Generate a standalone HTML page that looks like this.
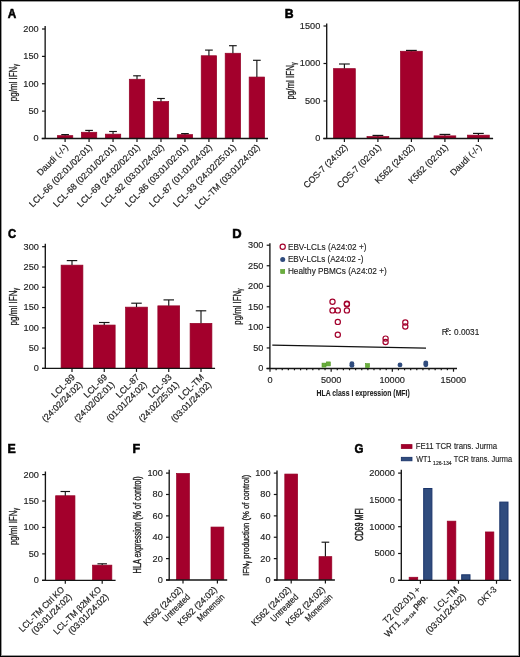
<!DOCTYPE html>
<html><head><meta charset="utf-8"><style>
html,body{margin:0;padding:0;background:#fff;}
#c{position:relative;width:520px;height:657px;overflow:hidden;background:#fff;}
#c svg{position:absolute;left:0;top:0;will-change:transform;}
#bd{position:absolute;left:0;top:0;width:518px;height:655px;border:1px solid #000;box-shadow:inset 0 0 0 1px #9a9a9a;}
text{font-family:"Liberation Sans",sans-serif;}
</style></head><body><div id="c">
<svg width="520" height="657" viewBox="0 0 520 657">
<rect x="57.40" y="135.65" width="15.40" height="2.50" fill="#a3002c" stroke="#940026" stroke-width="0.7"/>
<rect x="81.37" y="132.25" width="15.40" height="5.90" fill="#a3002c" stroke="#940026" stroke-width="0.7"/>
<rect x="105.34" y="134.15" width="15.40" height="4.00" fill="#a3002c" stroke="#940026" stroke-width="0.7"/>
<rect x="129.31" y="79.25" width="15.40" height="58.90" fill="#a3002c" stroke="#940026" stroke-width="0.7"/>
<rect x="153.28" y="101.55" width="15.40" height="36.60" fill="#a3002c" stroke="#940026" stroke-width="0.7"/>
<rect x="177.25" y="134.65" width="15.40" height="3.50" fill="#a3002c" stroke="#940026" stroke-width="0.7"/>
<rect x="201.22" y="55.75" width="15.40" height="82.40" fill="#a3002c" stroke="#940026" stroke-width="0.7"/>
<rect x="225.19" y="53.25" width="15.40" height="84.90" fill="#a3002c" stroke="#940026" stroke-width="0.7"/>
<rect x="249.16" y="77.05" width="15.40" height="61.10" fill="#a3002c" stroke="#940026" stroke-width="0.7"/>
<rect x="333.50" y="68.65" width="21.80" height="69.50" fill="#a3002c" stroke="#940026" stroke-width="0.7"/>
<rect x="367.00" y="136.55" width="21.80" height="1.60" fill="#a3002c" stroke="#940026" stroke-width="0.7"/>
<rect x="400.50" y="51.25" width="21.80" height="86.90" fill="#a3002c" stroke="#940026" stroke-width="0.7"/>
<rect x="434.00" y="135.85" width="21.80" height="2.30" fill="#a3002c" stroke="#940026" stroke-width="0.7"/>
<rect x="467.50" y="135.15" width="21.80" height="3.00" fill="#a3002c" stroke="#940026" stroke-width="0.7"/>
<rect x="61.10" y="265.15" width="21.80" height="102.90" fill="#a3002c" stroke="#940026" stroke-width="0.7"/>
<rect x="93.35" y="325.05" width="21.80" height="43.00" fill="#a3002c" stroke="#940026" stroke-width="0.7"/>
<rect x="125.60" y="307.15" width="21.80" height="60.90" fill="#a3002c" stroke="#940026" stroke-width="0.7"/>
<rect x="157.85" y="305.85" width="21.80" height="62.20" fill="#a3002c" stroke="#940026" stroke-width="0.7"/>
<rect x="190.10" y="323.35" width="21.80" height="44.70" fill="#a3002c" stroke="#940026" stroke-width="0.7"/>
<rect x="55.65" y="495.75" width="19.30" height="84.20" fill="#a3002c" stroke="#940026" stroke-width="0.7"/>
<rect x="92.55" y="565.15" width="19.30" height="14.80" fill="#a3002c" stroke="#940026" stroke-width="0.7"/>
<rect x="176.60" y="473.45" width="12.80" height="106.20" fill="#a3002c" stroke="#940026" stroke-width="0.7"/>
<rect x="211.00" y="527.05" width="12.80" height="52.60" fill="#a3002c" stroke="#940026" stroke-width="0.7"/>
<rect x="284.80" y="474.05" width="12.80" height="105.60" fill="#a3002c" stroke="#940026" stroke-width="0.7"/>
<rect x="319.00" y="556.65" width="12.80" height="23.00" fill="#a3002c" stroke="#940026" stroke-width="0.7"/>
<rect x="409.15" y="577.25" width="8.60" height="2.70" fill="#a3002c" stroke="#940026" stroke-width="0.7"/>
<rect x="447.25" y="521.15" width="8.60" height="58.80" fill="#a3002c" stroke="#940026" stroke-width="0.7"/>
<rect x="485.35" y="531.95" width="8.50" height="48.00" fill="#a3002c" stroke="#940026" stroke-width="0.7"/>
<rect x="423.70" y="488.50" width="8.20" height="91.30" fill="#304c7e" stroke="#1a346a" stroke-width="1.0"/>
<rect x="461.70" y="574.80" width="8.30" height="5.00" fill="#304c7e" stroke="#1a346a" stroke-width="1.0"/>
<rect x="499.80" y="502.10" width="8.20" height="77.70" fill="#304c7e" stroke="#1a346a" stroke-width="1.0"/>
<text x="7.83" y="18.23" font-size="12.57" text-anchor="start" fill="#000" font-weight="bold" textLength="8.50" lengthAdjust="spacingAndGlyphs" stroke="#000" stroke-width="0.55">A</text>
<line x1="65.10" y1="134.60" x2="65.10" y2="135.60" stroke="#151515" stroke-width="1.15"/>
<line x1="61.25" y1="134.60" x2="68.95" y2="134.60" stroke="#151515" stroke-width="1.15"/>
<line x1="89.07" y1="130.40" x2="89.07" y2="132.20" stroke="#151515" stroke-width="1.15"/>
<line x1="85.22" y1="130.40" x2="92.92" y2="130.40" stroke="#151515" stroke-width="1.15"/>
<line x1="113.04" y1="131.50" x2="113.04" y2="134.10" stroke="#151515" stroke-width="1.15"/>
<line x1="109.19" y1="131.50" x2="116.89" y2="131.50" stroke="#151515" stroke-width="1.15"/>
<line x1="137.01" y1="75.80" x2="137.01" y2="79.20" stroke="#151515" stroke-width="1.15"/>
<line x1="133.16" y1="75.80" x2="140.86" y2="75.80" stroke="#151515" stroke-width="1.15"/>
<line x1="160.98" y1="98.50" x2="160.98" y2="101.50" stroke="#151515" stroke-width="1.15"/>
<line x1="157.13" y1="98.50" x2="164.83" y2="98.50" stroke="#151515" stroke-width="1.15"/>
<line x1="184.95" y1="133.60" x2="184.95" y2="134.60" stroke="#151515" stroke-width="1.15"/>
<line x1="181.10" y1="133.60" x2="188.80" y2="133.60" stroke="#151515" stroke-width="1.15"/>
<line x1="208.92" y1="50.10" x2="208.92" y2="55.70" stroke="#151515" stroke-width="1.15"/>
<line x1="205.07" y1="50.10" x2="212.77" y2="50.10" stroke="#151515" stroke-width="1.15"/>
<line x1="232.89" y1="45.70" x2="232.89" y2="53.20" stroke="#151515" stroke-width="1.15"/>
<line x1="229.04" y1="45.70" x2="236.74" y2="45.70" stroke="#151515" stroke-width="1.15"/>
<line x1="256.86" y1="60.30" x2="256.86" y2="77.00" stroke="#151515" stroke-width="1.15"/>
<line x1="253.01" y1="60.30" x2="260.71" y2="60.30" stroke="#151515" stroke-width="1.15"/>
<line x1="45.15" y1="26.00" x2="45.15" y2="139.10" stroke="#151515" stroke-width="1.35"/>
<line x1="41.95" y1="138.50" x2="45.15" y2="138.50" stroke="#151515" stroke-width="1.2"/>
<text x="33.60" y="141.42" font-size="8.50" text-anchor="start" fill="#1e1e1e" textLength="5.11" lengthAdjust="spacingAndGlyphs" stroke="#1e1e1e" stroke-width="0.15">0</text>
<line x1="41.95" y1="111.12" x2="45.15" y2="111.12" stroke="#151515" stroke-width="1.2"/>
<text x="28.50" y="114.05" font-size="8.50" text-anchor="start" fill="#1e1e1e" textLength="10.21" lengthAdjust="spacingAndGlyphs" stroke="#1e1e1e" stroke-width="0.15">50</text>
<line x1="41.95" y1="83.75" x2="45.15" y2="83.75" stroke="#151515" stroke-width="1.2"/>
<text x="23.39" y="86.67" font-size="8.50" text-anchor="start" fill="#1e1e1e" textLength="15.32" lengthAdjust="spacingAndGlyphs" stroke="#1e1e1e" stroke-width="0.15">100</text>
<line x1="41.95" y1="56.38" x2="45.15" y2="56.38" stroke="#151515" stroke-width="1.2"/>
<text x="23.39" y="59.30" font-size="8.50" text-anchor="start" fill="#1e1e1e" textLength="15.32" lengthAdjust="spacingAndGlyphs" stroke="#1e1e1e" stroke-width="0.15">150</text>
<line x1="41.95" y1="29.00" x2="45.15" y2="29.00" stroke="#151515" stroke-width="1.2"/>
<text x="23.39" y="31.92" font-size="8.50" text-anchor="start" fill="#1e1e1e" textLength="15.32" lengthAdjust="spacingAndGlyphs" stroke="#1e1e1e" stroke-width="0.15">200</text>
<line x1="41.70" y1="138.50" x2="268.00" y2="138.50" stroke="#151515" stroke-width="1.35"/>
<line x1="65.10" y1="138.50" x2="65.10" y2="142.00" stroke="#151515" stroke-width="1.2"/>
<line x1="89.07" y1="138.50" x2="89.07" y2="142.00" stroke="#151515" stroke-width="1.2"/>
<line x1="113.04" y1="138.50" x2="113.04" y2="142.00" stroke="#151515" stroke-width="1.2"/>
<line x1="137.01" y1="138.50" x2="137.01" y2="142.00" stroke="#151515" stroke-width="1.2"/>
<line x1="160.98" y1="138.50" x2="160.98" y2="142.00" stroke="#151515" stroke-width="1.2"/>
<line x1="184.95" y1="138.50" x2="184.95" y2="142.00" stroke="#151515" stroke-width="1.2"/>
<line x1="208.92" y1="138.50" x2="208.92" y2="142.00" stroke="#151515" stroke-width="1.2"/>
<line x1="232.89" y1="138.50" x2="232.89" y2="142.00" stroke="#151515" stroke-width="1.2"/>
<line x1="256.86" y1="138.50" x2="256.86" y2="142.00" stroke="#151515" stroke-width="1.2"/>
<g transform="translate(68.70,147.90) rotate(-45)"><text x="-40.05" y="0.00" font-size="8.90" fill="#1e1e1e" textLength="40.05" lengthAdjust="spacingAndGlyphs" stroke="#1e1e1e" stroke-width="0.2">Daudi (-/-)</text></g>
<g transform="translate(92.67,147.90) rotate(-45)"><text x="-84.61" y="0.00" font-size="8.90" fill="#1e1e1e" textLength="84.61" lengthAdjust="spacingAndGlyphs" stroke="#1e1e1e" stroke-width="0.2">LCL-66 (02:01/02:01)</text></g>
<g transform="translate(116.64,147.90) rotate(-45)"><text x="-84.61" y="0.00" font-size="8.90" fill="#1e1e1e" textLength="84.61" lengthAdjust="spacingAndGlyphs" stroke="#1e1e1e" stroke-width="0.2">LCL-68 (02:01/02:01)</text></g>
<g transform="translate(140.61,147.90) rotate(-45)"><text x="-84.61" y="0.00" font-size="8.90" fill="#1e1e1e" textLength="84.61" lengthAdjust="spacingAndGlyphs" stroke="#1e1e1e" stroke-width="0.2">LCL-69 (24:02/02:01)</text></g>
<g transform="translate(164.58,147.90) rotate(-45)"><text x="-84.61" y="0.00" font-size="8.90" fill="#1e1e1e" textLength="84.61" lengthAdjust="spacingAndGlyphs" stroke="#1e1e1e" stroke-width="0.2">LCL-82 (03:01/24:02)</text></g>
<g transform="translate(188.55,147.90) rotate(-45)"><text x="-84.61" y="0.00" font-size="8.90" fill="#1e1e1e" textLength="84.61" lengthAdjust="spacingAndGlyphs" stroke="#1e1e1e" stroke-width="0.2">LCL-86 (03:01/02:01)</text></g>
<g transform="translate(212.52,147.90) rotate(-45)"><text x="-84.61" y="0.00" font-size="8.90" fill="#1e1e1e" textLength="84.61" lengthAdjust="spacingAndGlyphs" stroke="#1e1e1e" stroke-width="0.2">LCL-87 (01:01/24:02)</text></g>
<g transform="translate(236.49,147.90) rotate(-45)"><text x="-84.61" y="0.00" font-size="8.90" fill="#1e1e1e" textLength="84.61" lengthAdjust="spacingAndGlyphs" stroke="#1e1e1e" stroke-width="0.2">LCL-93 (24:02/25:01)</text></g>
<g transform="translate(260.46,147.90) rotate(-45)"><text x="-87.56" y="0.00" font-size="8.90" fill="#1e1e1e" textLength="87.56" lengthAdjust="spacingAndGlyphs" stroke="#1e1e1e" stroke-width="0.2">LCL-TM (03:01/24:02)</text></g>
<text transform="translate(16.80,101.19) rotate(-90)" font-size="10.40" fill="#1e1e1e" textLength="37.11" lengthAdjust="spacingAndGlyphs" stroke="#1e1e1e" stroke-width="0.3">pg/ml IFN<tspan font-size="6.6" dy="1.4">γ</tspan></text>
<text x="284.76" y="18.23" font-size="12.06" text-anchor="start" fill="#000" font-weight="bold" textLength="8.82" lengthAdjust="spacingAndGlyphs" stroke="#000" stroke-width="0.55">B</text>
<line x1="344.40" y1="64.00" x2="344.40" y2="68.60" stroke="#151515" stroke-width="1.15"/>
<line x1="339.00" y1="64.00" x2="349.80" y2="64.00" stroke="#151515" stroke-width="1.15"/>
<line x1="377.90" y1="135.40" x2="377.90" y2="136.50" stroke="#151515" stroke-width="1.15"/>
<line x1="372.50" y1="135.40" x2="383.30" y2="135.40" stroke="#151515" stroke-width="1.15"/>
<line x1="411.40" y1="50.40" x2="411.40" y2="51.20" stroke="#151515" stroke-width="1.15"/>
<line x1="406.00" y1="50.40" x2="416.80" y2="50.40" stroke="#151515" stroke-width="1.15"/>
<line x1="444.90" y1="134.40" x2="444.90" y2="135.80" stroke="#151515" stroke-width="1.15"/>
<line x1="439.50" y1="134.40" x2="450.30" y2="134.40" stroke="#151515" stroke-width="1.15"/>
<line x1="478.40" y1="133.40" x2="478.40" y2="135.10" stroke="#151515" stroke-width="1.15"/>
<line x1="473.00" y1="133.40" x2="483.80" y2="133.40" stroke="#151515" stroke-width="1.15"/>
<line x1="326.70" y1="23.50" x2="326.70" y2="139.10" stroke="#151515" stroke-width="1.35"/>
<line x1="323.50" y1="138.50" x2="326.70" y2="138.50" stroke="#151515" stroke-width="1.2"/>
<text x="315.15" y="141.42" font-size="8.50" text-anchor="start" fill="#1e1e1e" textLength="5.11" lengthAdjust="spacingAndGlyphs" stroke="#1e1e1e" stroke-width="0.15">0</text>
<line x1="323.50" y1="101.00" x2="326.70" y2="101.00" stroke="#151515" stroke-width="1.2"/>
<text x="304.94" y="103.92" font-size="8.50" text-anchor="start" fill="#1e1e1e" textLength="15.32" lengthAdjust="spacingAndGlyphs" stroke="#1e1e1e" stroke-width="0.15">500</text>
<line x1="323.50" y1="63.50" x2="326.70" y2="63.50" stroke="#151515" stroke-width="1.2"/>
<text x="299.84" y="66.42" font-size="8.50" text-anchor="start" fill="#1e1e1e" textLength="20.42" lengthAdjust="spacingAndGlyphs" stroke="#1e1e1e" stroke-width="0.15">1000</text>
<line x1="323.50" y1="26.00" x2="326.70" y2="26.00" stroke="#151515" stroke-width="1.2"/>
<text x="299.84" y="28.92" font-size="8.50" text-anchor="start" fill="#1e1e1e" textLength="20.42" lengthAdjust="spacingAndGlyphs" stroke="#1e1e1e" stroke-width="0.15">1500</text>
<line x1="323.30" y1="138.50" x2="493.10" y2="138.50" stroke="#151515" stroke-width="1.35"/>
<line x1="344.40" y1="138.50" x2="344.40" y2="142.00" stroke="#151515" stroke-width="1.2"/>
<line x1="377.90" y1="138.50" x2="377.90" y2="142.00" stroke="#151515" stroke-width="1.2"/>
<line x1="411.40" y1="138.50" x2="411.40" y2="142.00" stroke="#151515" stroke-width="1.2"/>
<line x1="444.90" y1="138.50" x2="444.90" y2="142.00" stroke="#151515" stroke-width="1.2"/>
<line x1="478.40" y1="138.50" x2="478.40" y2="142.00" stroke="#151515" stroke-width="1.2"/>
<g transform="translate(348.00,147.90) rotate(-45)"><text x="-57.87" y="0.00" font-size="8.90" fill="#1e1e1e" textLength="57.87" lengthAdjust="spacingAndGlyphs" stroke="#1e1e1e" stroke-width="0.2">COS-7 (24:02)</text></g>
<g transform="translate(381.50,147.90) rotate(-45)"><text x="-57.87" y="0.00" font-size="8.90" fill="#1e1e1e" textLength="57.87" lengthAdjust="spacingAndGlyphs" stroke="#1e1e1e" stroke-width="0.2">COS-7 (02:01)</text></g>
<g transform="translate(415.00,147.90) rotate(-45)"><text x="-51.46" y="0.00" font-size="8.90" fill="#1e1e1e" textLength="51.46" lengthAdjust="spacingAndGlyphs" stroke="#1e1e1e" stroke-width="0.2">K562 (24:02)</text></g>
<g transform="translate(448.50,147.90) rotate(-45)"><text x="-51.46" y="0.00" font-size="8.90" fill="#1e1e1e" textLength="51.46" lengthAdjust="spacingAndGlyphs" stroke="#1e1e1e" stroke-width="0.2">K562 (02:01)</text></g>
<g transform="translate(482.00,147.90) rotate(-45)"><text x="-40.05" y="0.00" font-size="8.90" fill="#1e1e1e" textLength="40.05" lengthAdjust="spacingAndGlyphs" stroke="#1e1e1e" stroke-width="0.2">Daudi (-/-)</text></g>
<text transform="translate(294.20,99.59) rotate(-90)" font-size="10.40" fill="#1e1e1e" textLength="37.01" lengthAdjust="spacingAndGlyphs" stroke="#1e1e1e" stroke-width="0.3">pg/ml IFN<tspan font-size="6.6" dy="1.4">γ</tspan></text>
<text x="8.01" y="238.22" font-size="13.15" text-anchor="start" fill="#000" font-weight="bold" textLength="8.12" lengthAdjust="spacingAndGlyphs" stroke="#000" stroke-width="0.55">C</text>
<line x1="72.00" y1="260.60" x2="72.00" y2="265.10" stroke="#151515" stroke-width="1.15"/>
<line x1="66.75" y1="260.60" x2="77.25" y2="260.60" stroke="#151515" stroke-width="1.15"/>
<line x1="104.25" y1="322.50" x2="104.25" y2="325.00" stroke="#151515" stroke-width="1.15"/>
<line x1="99.00" y1="322.50" x2="109.50" y2="322.50" stroke="#151515" stroke-width="1.15"/>
<line x1="136.50" y1="303.20" x2="136.50" y2="307.10" stroke="#151515" stroke-width="1.15"/>
<line x1="131.25" y1="303.20" x2="141.75" y2="303.20" stroke="#151515" stroke-width="1.15"/>
<line x1="168.75" y1="299.90" x2="168.75" y2="305.80" stroke="#151515" stroke-width="1.15"/>
<line x1="163.50" y1="299.90" x2="174.00" y2="299.90" stroke="#151515" stroke-width="1.15"/>
<line x1="201.00" y1="310.80" x2="201.00" y2="323.30" stroke="#151515" stroke-width="1.15"/>
<line x1="195.75" y1="310.80" x2="206.25" y2="310.80" stroke="#151515" stroke-width="1.15"/>
<line x1="45.30" y1="243.80" x2="45.30" y2="369.00" stroke="#151515" stroke-width="1.35"/>
<line x1="42.10" y1="368.40" x2="45.30" y2="368.40" stroke="#151515" stroke-width="1.2"/>
<text x="33.75" y="371.32" font-size="8.50" text-anchor="start" fill="#1e1e1e" textLength="5.11" lengthAdjust="spacingAndGlyphs" stroke="#1e1e1e" stroke-width="0.15">0</text>
<line x1="42.10" y1="348.12" x2="45.30" y2="348.12" stroke="#151515" stroke-width="1.2"/>
<text x="28.65" y="351.04" font-size="8.50" text-anchor="start" fill="#1e1e1e" textLength="10.21" lengthAdjust="spacingAndGlyphs" stroke="#1e1e1e" stroke-width="0.15">50</text>
<line x1="42.10" y1="327.83" x2="45.30" y2="327.83" stroke="#151515" stroke-width="1.2"/>
<text x="23.54" y="330.76" font-size="8.50" text-anchor="start" fill="#1e1e1e" textLength="15.32" lengthAdjust="spacingAndGlyphs" stroke="#1e1e1e" stroke-width="0.15">100</text>
<line x1="42.10" y1="307.55" x2="45.30" y2="307.55" stroke="#151515" stroke-width="1.2"/>
<text x="23.54" y="310.47" font-size="8.50" text-anchor="start" fill="#1e1e1e" textLength="15.32" lengthAdjust="spacingAndGlyphs" stroke="#1e1e1e" stroke-width="0.15">150</text>
<line x1="42.10" y1="287.27" x2="45.30" y2="287.27" stroke="#151515" stroke-width="1.2"/>
<text x="23.54" y="290.19" font-size="8.50" text-anchor="start" fill="#1e1e1e" textLength="15.32" lengthAdjust="spacingAndGlyphs" stroke="#1e1e1e" stroke-width="0.15">200</text>
<line x1="42.10" y1="266.98" x2="45.30" y2="266.98" stroke="#151515" stroke-width="1.2"/>
<text x="23.54" y="269.91" font-size="8.50" text-anchor="start" fill="#1e1e1e" textLength="15.32" lengthAdjust="spacingAndGlyphs" stroke="#1e1e1e" stroke-width="0.15">250</text>
<line x1="42.10" y1="246.70" x2="45.30" y2="246.70" stroke="#151515" stroke-width="1.2"/>
<text x="23.54" y="249.62" font-size="8.50" text-anchor="start" fill="#1e1e1e" textLength="15.32" lengthAdjust="spacingAndGlyphs" stroke="#1e1e1e" stroke-width="0.15">300</text>
<line x1="42.00" y1="368.40" x2="215.10" y2="368.40" stroke="#151515" stroke-width="1.35"/>
<line x1="72.00" y1="368.40" x2="72.00" y2="371.90" stroke="#151515" stroke-width="1.2"/>
<line x1="104.25" y1="368.40" x2="104.25" y2="371.90" stroke="#151515" stroke-width="1.2"/>
<line x1="136.50" y1="368.40" x2="136.50" y2="371.90" stroke="#151515" stroke-width="1.2"/>
<line x1="168.75" y1="368.40" x2="168.75" y2="371.90" stroke="#151515" stroke-width="1.2"/>
<line x1="201.00" y1="368.40" x2="201.00" y2="371.90" stroke="#151515" stroke-width="1.2"/>
<g transform="translate(75.60,377.80) rotate(-45)"><text x="-29.19" y="0.00" font-size="8.90" fill="#1e1e1e" textLength="29.19" lengthAdjust="spacingAndGlyphs" stroke="#1e1e1e" stroke-width="0.2">LCL-89</text></g>
<g transform="translate(82.95,385.15) rotate(-45)"><text x="-52.94" y="0.00" font-size="8.90" fill="#1e1e1e" textLength="52.94" lengthAdjust="spacingAndGlyphs" stroke="#1e1e1e" stroke-width="0.2">(24:02/24:02)</text></g>
<g transform="translate(107.85,377.80) rotate(-45)"><text x="-29.19" y="0.00" font-size="8.90" fill="#1e1e1e" textLength="29.19" lengthAdjust="spacingAndGlyphs" stroke="#1e1e1e" stroke-width="0.2">LCL-69</text></g>
<g transform="translate(115.20,385.15) rotate(-45)"><text x="-52.94" y="0.00" font-size="8.90" fill="#1e1e1e" textLength="52.94" lengthAdjust="spacingAndGlyphs" stroke="#1e1e1e" stroke-width="0.2">(24:02/02:01)</text></g>
<g transform="translate(140.10,377.80) rotate(-45)"><text x="-29.19" y="0.00" font-size="8.90" fill="#1e1e1e" textLength="29.19" lengthAdjust="spacingAndGlyphs" stroke="#1e1e1e" stroke-width="0.2">LCL-87</text></g>
<g transform="translate(147.45,385.15) rotate(-45)"><text x="-52.94" y="0.00" font-size="8.90" fill="#1e1e1e" textLength="52.94" lengthAdjust="spacingAndGlyphs" stroke="#1e1e1e" stroke-width="0.2">(01:01/24:02)</text></g>
<g transform="translate(172.35,377.80) rotate(-45)"><text x="-29.19" y="0.00" font-size="8.90" fill="#1e1e1e" textLength="29.19" lengthAdjust="spacingAndGlyphs" stroke="#1e1e1e" stroke-width="0.2">LCL-93</text></g>
<g transform="translate(179.70,385.15) rotate(-45)"><text x="-52.94" y="0.00" font-size="8.90" fill="#1e1e1e" textLength="52.94" lengthAdjust="spacingAndGlyphs" stroke="#1e1e1e" stroke-width="0.2">(24:02/25:01)</text></g>
<g transform="translate(204.60,377.80) rotate(-45)"><text x="-32.14" y="0.00" font-size="8.90" fill="#1e1e1e" textLength="32.14" lengthAdjust="spacingAndGlyphs" stroke="#1e1e1e" stroke-width="0.2">LCL-TM</text></g>
<g transform="translate(211.95,385.15) rotate(-45)"><text x="-52.94" y="0.00" font-size="8.90" fill="#1e1e1e" textLength="52.94" lengthAdjust="spacingAndGlyphs" stroke="#1e1e1e" stroke-width="0.2">(03:01/24:02)</text></g>
<text transform="translate(16.60,325.40) rotate(-90)" font-size="10.40" fill="#1e1e1e" textLength="37.52" lengthAdjust="spacingAndGlyphs" stroke="#1e1e1e" stroke-width="0.3">pg/ml IFN<tspan font-size="6.6" dy="1.4">γ</tspan></text>
<text x="232.21" y="237.53" font-size="12.28" text-anchor="start" fill="#000" font-weight="bold" textLength="9.36" lengthAdjust="spacingAndGlyphs" stroke="#000" stroke-width="0.55">D</text>
<line x1="269.90" y1="243.30" x2="269.90" y2="369.10" stroke="#151515" stroke-width="1.35"/>
<line x1="266.70" y1="368.50" x2="269.90" y2="368.50" stroke="#151515" stroke-width="1.2"/>
<text x="258.35" y="371.42" font-size="8.50" text-anchor="start" fill="#1e1e1e" textLength="5.11" lengthAdjust="spacingAndGlyphs" stroke="#1e1e1e" stroke-width="0.15">0</text>
<line x1="266.70" y1="347.95" x2="269.90" y2="347.95" stroke="#151515" stroke-width="1.2"/>
<text x="253.25" y="350.87" font-size="8.50" text-anchor="start" fill="#1e1e1e" textLength="10.21" lengthAdjust="spacingAndGlyphs" stroke="#1e1e1e" stroke-width="0.15">50</text>
<line x1="266.70" y1="327.40" x2="269.90" y2="327.40" stroke="#151515" stroke-width="1.2"/>
<text x="248.14" y="330.32" font-size="8.50" text-anchor="start" fill="#1e1e1e" textLength="15.32" lengthAdjust="spacingAndGlyphs" stroke="#1e1e1e" stroke-width="0.15">100</text>
<line x1="266.70" y1="306.85" x2="269.90" y2="306.85" stroke="#151515" stroke-width="1.2"/>
<text x="248.14" y="309.77" font-size="8.50" text-anchor="start" fill="#1e1e1e" textLength="15.32" lengthAdjust="spacingAndGlyphs" stroke="#1e1e1e" stroke-width="0.15">150</text>
<line x1="266.70" y1="286.30" x2="269.90" y2="286.30" stroke="#151515" stroke-width="1.2"/>
<text x="248.14" y="289.22" font-size="8.50" text-anchor="start" fill="#1e1e1e" textLength="15.32" lengthAdjust="spacingAndGlyphs" stroke="#1e1e1e" stroke-width="0.15">200</text>
<line x1="266.70" y1="265.75" x2="269.90" y2="265.75" stroke="#151515" stroke-width="1.2"/>
<text x="248.14" y="268.67" font-size="8.50" text-anchor="start" fill="#1e1e1e" textLength="15.32" lengthAdjust="spacingAndGlyphs" stroke="#1e1e1e" stroke-width="0.15">250</text>
<line x1="266.70" y1="245.20" x2="269.90" y2="245.20" stroke="#151515" stroke-width="1.2"/>
<text x="248.14" y="248.12" font-size="8.50" text-anchor="start" fill="#1e1e1e" textLength="15.32" lengthAdjust="spacingAndGlyphs" stroke="#1e1e1e" stroke-width="0.15">300</text>
<line x1="266.50" y1="368.50" x2="457.00" y2="368.50" stroke="#151515" stroke-width="1.35"/>
<line x1="270.00" y1="368.50" x2="270.00" y2="371.70" stroke="#151515" stroke-width="1.2"/>
<line x1="276.12" y1="368.50" x2="276.12" y2="370.30" stroke="#151515" stroke-width="1.2"/>
<line x1="282.23" y1="368.50" x2="282.23" y2="370.30" stroke="#151515" stroke-width="1.2"/>
<line x1="288.35" y1="368.50" x2="288.35" y2="370.30" stroke="#151515" stroke-width="1.2"/>
<line x1="294.47" y1="368.50" x2="294.47" y2="370.30" stroke="#151515" stroke-width="1.2"/>
<line x1="300.58" y1="368.50" x2="300.58" y2="370.30" stroke="#151515" stroke-width="1.2"/>
<line x1="306.70" y1="368.50" x2="306.70" y2="370.30" stroke="#151515" stroke-width="1.2"/>
<line x1="312.82" y1="368.50" x2="312.82" y2="370.30" stroke="#151515" stroke-width="1.2"/>
<line x1="318.93" y1="368.50" x2="318.93" y2="370.30" stroke="#151515" stroke-width="1.2"/>
<line x1="325.05" y1="368.50" x2="325.05" y2="370.30" stroke="#151515" stroke-width="1.2"/>
<line x1="331.17" y1="368.50" x2="331.17" y2="371.70" stroke="#151515" stroke-width="1.2"/>
<line x1="337.28" y1="368.50" x2="337.28" y2="370.30" stroke="#151515" stroke-width="1.2"/>
<line x1="343.40" y1="368.50" x2="343.40" y2="370.30" stroke="#151515" stroke-width="1.2"/>
<line x1="349.52" y1="368.50" x2="349.52" y2="370.30" stroke="#151515" stroke-width="1.2"/>
<line x1="355.63" y1="368.50" x2="355.63" y2="370.30" stroke="#151515" stroke-width="1.2"/>
<line x1="361.75" y1="368.50" x2="361.75" y2="370.30" stroke="#151515" stroke-width="1.2"/>
<line x1="367.87" y1="368.50" x2="367.87" y2="370.30" stroke="#151515" stroke-width="1.2"/>
<line x1="373.98" y1="368.50" x2="373.98" y2="370.30" stroke="#151515" stroke-width="1.2"/>
<line x1="380.10" y1="368.50" x2="380.10" y2="370.30" stroke="#151515" stroke-width="1.2"/>
<line x1="386.22" y1="368.50" x2="386.22" y2="370.30" stroke="#151515" stroke-width="1.2"/>
<line x1="392.33" y1="368.50" x2="392.33" y2="371.70" stroke="#151515" stroke-width="1.2"/>
<line x1="398.45" y1="368.50" x2="398.45" y2="370.30" stroke="#151515" stroke-width="1.2"/>
<line x1="404.57" y1="368.50" x2="404.57" y2="370.30" stroke="#151515" stroke-width="1.2"/>
<line x1="410.68" y1="368.50" x2="410.68" y2="370.30" stroke="#151515" stroke-width="1.2"/>
<line x1="416.80" y1="368.50" x2="416.80" y2="370.30" stroke="#151515" stroke-width="1.2"/>
<line x1="422.92" y1="368.50" x2="422.92" y2="370.30" stroke="#151515" stroke-width="1.2"/>
<line x1="429.03" y1="368.50" x2="429.03" y2="370.30" stroke="#151515" stroke-width="1.2"/>
<line x1="435.15" y1="368.50" x2="435.15" y2="370.30" stroke="#151515" stroke-width="1.2"/>
<line x1="441.27" y1="368.50" x2="441.27" y2="370.30" stroke="#151515" stroke-width="1.2"/>
<line x1="447.38" y1="368.50" x2="447.38" y2="370.30" stroke="#151515" stroke-width="1.2"/>
<line x1="453.50" y1="368.50" x2="453.50" y2="371.70" stroke="#151515" stroke-width="1.2"/>
<text x="267.45" y="383.00" font-size="8.50" text-anchor="start" fill="#1e1e1e" textLength="5.11" lengthAdjust="spacingAndGlyphs" stroke="#1e1e1e" stroke-width="0.15">0</text>
<text x="320.95" y="383.00" font-size="8.50" text-anchor="start" fill="#1e1e1e" textLength="20.42" lengthAdjust="spacingAndGlyphs" stroke="#1e1e1e" stroke-width="0.15">5000</text>
<text x="379.40" y="383.00" font-size="8.50" text-anchor="start" fill="#1e1e1e" textLength="25.53" lengthAdjust="spacingAndGlyphs" stroke="#1e1e1e" stroke-width="0.15">10000</text>
<text x="440.57" y="383.00" font-size="8.50" text-anchor="start" fill="#1e1e1e" textLength="25.53" lengthAdjust="spacingAndGlyphs" stroke="#1e1e1e" stroke-width="0.15">15000</text>
<text x="316.54" y="396.20" font-size="9.00" text-anchor="start" fill="#1e1e1e" font-weight="bold" textLength="93.20" lengthAdjust="spacingAndGlyphs" stroke="#1e1e1e" stroke-width="0.1">HLA class I expression (MFI)</text>
<text transform="translate(240.80,324.68) rotate(-90)" font-size="10.40" fill="#1e1e1e" textLength="36.20" lengthAdjust="spacingAndGlyphs" stroke="#1e1e1e" stroke-width="0.3">pg/ml IFN<tspan font-size="6.6" dy="1.4">γ</tspan></text>
<line x1="272.30" y1="345.20" x2="426.00" y2="348.10" stroke="#111" stroke-width="1.25"/>
<text x="441.71" y="335.00" font-size="8.50" text-anchor="start" fill="#1e1e1e" textLength="6.08" lengthAdjust="spacingAndGlyphs" stroke="#1e1e1e" stroke-width="0.15">R</text>
<text x="445.70" y="332.00" font-size="4.60" text-anchor="start" fill="#1e1e1e" textLength="3.30" lengthAdjust="spacingAndGlyphs" stroke="#1e1e1e" stroke-width="0.15">2</text>
<text x="448.05" y="335.00" font-size="8.50" text-anchor="start" fill="#1e1e1e" textLength="3.79" lengthAdjust="spacingAndGlyphs" stroke="#1e1e1e" stroke-width="0.15">:</text>
<text x="454.08" y="335.00" font-size="8.50" text-anchor="start" fill="#1e1e1e" textLength="25.12" lengthAdjust="spacingAndGlyphs" stroke="#1e1e1e" stroke-width="0.15">0.0031</text>
<circle cx="332.5" cy="301.8" r="2.6" fill="none" stroke="#a3002c" stroke-width="1.2"/>
<circle cx="332.5" cy="310.4" r="2.6" fill="none" stroke="#a3002c" stroke-width="1.2"/>
<circle cx="337.8" cy="310.4" r="2.6" fill="none" stroke="#a3002c" stroke-width="1.2"/>
<circle cx="337.8" cy="321.9" r="2.6" fill="none" stroke="#a3002c" stroke-width="1.2"/>
<circle cx="337.8" cy="334.8" r="2.6" fill="none" stroke="#a3002c" stroke-width="1.2"/>
<circle cx="346.9" cy="303.8" r="2.6" fill="none" stroke="#a3002c" stroke-width="1.2"/>
<circle cx="346.9" cy="304.3" r="2.6" fill="none" stroke="#a3002c" stroke-width="1.2"/>
<circle cx="346.9" cy="310.4" r="2.6" fill="none" stroke="#a3002c" stroke-width="1.2"/>
<circle cx="405.3" cy="322.5" r="2.6" fill="none" stroke="#a3002c" stroke-width="1.2"/>
<circle cx="405.3" cy="326.5" r="2.6" fill="none" stroke="#a3002c" stroke-width="1.2"/>
<circle cx="385.6" cy="338.6" r="2.6" fill="none" stroke="#a3002c" stroke-width="1.2"/>
<circle cx="385.6" cy="342.0" r="2.6" fill="none" stroke="#a3002c" stroke-width="1.2"/>
<circle cx="351.9" cy="363.8" r="2.45" fill="#304c7e"/>
<circle cx="351.9" cy="365.4" r="2.45" fill="#304c7e"/>
<circle cx="400.0" cy="364.9" r="2.45" fill="#304c7e"/>
<circle cx="425.8" cy="363.0" r="2.45" fill="#304c7e"/>
<circle cx="425.8" cy="364.8" r="2.45" fill="#304c7e"/>
<rect x="322.00" y="363.10" width="4.00" height="4.00" fill="#6aad3d" stroke="#4f9a22" stroke-width="0.6"/>
<rect x="326.30" y="361.90" width="4.00" height="4.00" fill="#6aad3d" stroke="#4f9a22" stroke-width="0.6"/>
<rect x="365.50" y="363.60" width="4.00" height="4.00" fill="#6aad3d" stroke="#4f9a22" stroke-width="0.6"/>
<circle cx="282.7" cy="246.7" r="2.6" fill="none" stroke="#a3002c" stroke-width="1.2"/>
<circle cx="282.7" cy="259.6" r="2.5" fill="#304c7e"/>
<rect x="280.70" y="269.50" width="4.00" height="4.00" fill="#6aad3d" stroke="#4f9a22" stroke-width="0.6"/>
<text x="287.93" y="249.80" font-size="8.70" text-anchor="start" fill="#1e1e1e" textLength="78.47" lengthAdjust="spacingAndGlyphs" stroke="#1e1e1e" stroke-width="0.15">EBV-LCLs (A24:02 +)</text>
<text x="287.94" y="262.00" font-size="8.70" text-anchor="start" fill="#1e1e1e" textLength="75.56" lengthAdjust="spacingAndGlyphs" stroke="#1e1e1e" stroke-width="0.15">EBV-LCLs (A24:02 -)</text>
<text x="287.93" y="273.90" font-size="8.70" text-anchor="start" fill="#1e1e1e" textLength="98.78" lengthAdjust="spacingAndGlyphs" stroke="#1e1e1e" stroke-width="0.15">Healthy PBMCs (A24:02 +)</text>
<text x="7.45" y="452.62" font-size="12.43" text-anchor="start" fill="#000" font-weight="bold" textLength="8.26" lengthAdjust="spacingAndGlyphs" stroke="#000" stroke-width="0.55">E</text>
<line x1="65.30" y1="491.50" x2="65.30" y2="495.70" stroke="#151515" stroke-width="1.15"/>
<line x1="60.55" y1="491.50" x2="70.05" y2="491.50" stroke="#151515" stroke-width="1.15"/>
<line x1="102.20" y1="563.80" x2="102.20" y2="565.10" stroke="#151515" stroke-width="1.15"/>
<line x1="97.45" y1="563.80" x2="106.95" y2="563.80" stroke="#151515" stroke-width="1.15"/>
<line x1="45.40" y1="471.50" x2="45.40" y2="580.90" stroke="#151515" stroke-width="1.35"/>
<line x1="42.20" y1="580.30" x2="45.40" y2="580.30" stroke="#151515" stroke-width="1.2"/>
<text x="33.85" y="583.22" font-size="8.50" text-anchor="start" fill="#1e1e1e" textLength="5.11" lengthAdjust="spacingAndGlyphs" stroke="#1e1e1e" stroke-width="0.15">0</text>
<line x1="42.20" y1="553.88" x2="45.40" y2="553.88" stroke="#151515" stroke-width="1.2"/>
<text x="28.75" y="556.80" font-size="8.50" text-anchor="start" fill="#1e1e1e" textLength="10.21" lengthAdjust="spacingAndGlyphs" stroke="#1e1e1e" stroke-width="0.15">50</text>
<line x1="42.20" y1="527.45" x2="45.40" y2="527.45" stroke="#151515" stroke-width="1.2"/>
<text x="23.64" y="530.37" font-size="8.50" text-anchor="start" fill="#1e1e1e" textLength="15.32" lengthAdjust="spacingAndGlyphs" stroke="#1e1e1e" stroke-width="0.15">100</text>
<line x1="42.20" y1="501.02" x2="45.40" y2="501.02" stroke="#151515" stroke-width="1.2"/>
<text x="23.64" y="503.95" font-size="8.50" text-anchor="start" fill="#1e1e1e" textLength="15.32" lengthAdjust="spacingAndGlyphs" stroke="#1e1e1e" stroke-width="0.15">150</text>
<line x1="42.20" y1="474.60" x2="45.40" y2="474.60" stroke="#151515" stroke-width="1.2"/>
<text x="23.64" y="477.52" font-size="8.50" text-anchor="start" fill="#1e1e1e" textLength="15.32" lengthAdjust="spacingAndGlyphs" stroke="#1e1e1e" stroke-width="0.15">200</text>
<line x1="42.00" y1="580.30" x2="115.60" y2="580.30" stroke="#151515" stroke-width="1.35"/>
<line x1="65.30" y1="580.30" x2="65.30" y2="583.80" stroke="#151515" stroke-width="1.2"/>
<line x1="102.20" y1="580.30" x2="102.20" y2="583.80" stroke="#151515" stroke-width="1.2"/>
<g transform="translate(64.90,590.10) rotate(-45)"><text x="-59.96" y="0.00" font-size="8.90" fill="#1e1e1e" textLength="59.96" lengthAdjust="spacingAndGlyphs" stroke="#1e1e1e" stroke-width="0.2">LCL-TM Ctrl KO</text></g>
<g transform="translate(72.25,597.45) rotate(-45)"><text x="-52.94" y="0.00" font-size="8.90" fill="#1e1e1e" textLength="52.94" lengthAdjust="spacingAndGlyphs" stroke="#1e1e1e" stroke-width="0.2">(03:01/24:02)</text></g>
<g transform="translate(101.80,590.10) rotate(-45)"><text x="-63.38" y="0.00" font-size="8.90" fill="#1e1e1e" textLength="63.38" lengthAdjust="spacingAndGlyphs" stroke="#1e1e1e" stroke-width="0.2">LCL-TM β2M KO</text></g>
<g transform="translate(109.15,597.45) rotate(-45)"><text x="-52.94" y="0.00" font-size="8.90" fill="#1e1e1e" textLength="52.94" lengthAdjust="spacingAndGlyphs" stroke="#1e1e1e" stroke-width="0.2">(03:01/24:02)</text></g>
<text transform="translate(16.70,545.09) rotate(-90)" font-size="10.40" fill="#1e1e1e" textLength="37.11" lengthAdjust="spacingAndGlyphs" stroke="#1e1e1e" stroke-width="0.3">pg/ml IFN<tspan font-size="6.6" dy="1.4">γ</tspan></text>
<text x="132.44" y="452.62" font-size="12.43" text-anchor="start" fill="#000" font-weight="bold" textLength="7.65" lengthAdjust="spacingAndGlyphs" stroke="#000" stroke-width="0.55">F</text>
<line x1="169.20" y1="469.80" x2="169.20" y2="580.60" stroke="#151515" stroke-width="1.35"/>
<line x1="166.00" y1="580.00" x2="169.20" y2="580.00" stroke="#151515" stroke-width="1.2"/>
<text x="157.65" y="582.92" font-size="8.50" text-anchor="start" fill="#1e1e1e" textLength="5.11" lengthAdjust="spacingAndGlyphs" stroke="#1e1e1e" stroke-width="0.15">0</text>
<line x1="166.00" y1="558.62" x2="169.20" y2="558.62" stroke="#151515" stroke-width="1.2"/>
<text x="152.55" y="561.54" font-size="8.50" text-anchor="start" fill="#1e1e1e" textLength="10.21" lengthAdjust="spacingAndGlyphs" stroke="#1e1e1e" stroke-width="0.15">20</text>
<line x1="166.00" y1="537.24" x2="169.20" y2="537.24" stroke="#151515" stroke-width="1.2"/>
<text x="152.55" y="540.16" font-size="8.50" text-anchor="start" fill="#1e1e1e" textLength="10.21" lengthAdjust="spacingAndGlyphs" stroke="#1e1e1e" stroke-width="0.15">40</text>
<line x1="166.00" y1="515.86" x2="169.20" y2="515.86" stroke="#151515" stroke-width="1.2"/>
<text x="152.55" y="518.78" font-size="8.50" text-anchor="start" fill="#1e1e1e" textLength="10.21" lengthAdjust="spacingAndGlyphs" stroke="#1e1e1e" stroke-width="0.15">60</text>
<line x1="166.00" y1="494.48" x2="169.20" y2="494.48" stroke="#151515" stroke-width="1.2"/>
<text x="152.55" y="497.40" font-size="8.50" text-anchor="start" fill="#1e1e1e" textLength="10.21" lengthAdjust="spacingAndGlyphs" stroke="#1e1e1e" stroke-width="0.15">80</text>
<line x1="166.00" y1="473.10" x2="169.20" y2="473.10" stroke="#151515" stroke-width="1.2"/>
<text x="147.44" y="476.02" font-size="8.50" text-anchor="start" fill="#1e1e1e" textLength="15.32" lengthAdjust="spacingAndGlyphs" stroke="#1e1e1e" stroke-width="0.15">100</text>
<line x1="166.00" y1="580.00" x2="227.20" y2="580.00" stroke="#151515" stroke-width="1.35"/>
<line x1="183.00" y1="580.00" x2="183.00" y2="583.50" stroke="#151515" stroke-width="1.2"/>
<line x1="217.40" y1="580.00" x2="217.40" y2="583.50" stroke="#151515" stroke-width="1.2"/>
<g transform="translate(183.30,590.10) rotate(-45)"><text x="-51.46" y="0.00" font-size="8.90" fill="#1e1e1e" textLength="51.46" lengthAdjust="spacingAndGlyphs" stroke="#1e1e1e" stroke-width="0.2">K562 (24:02)</text></g>
<g transform="translate(190.72,597.52) rotate(-45)"><text x="-35.18" y="0.00" font-size="8.90" fill="#1e1e1e" textLength="35.18" lengthAdjust="spacingAndGlyphs" stroke="#1e1e1e" stroke-width="0.2">Untreated</text></g>
<g transform="translate(217.70,590.10) rotate(-45)"><text x="-51.46" y="0.00" font-size="8.90" fill="#1e1e1e" textLength="51.46" lengthAdjust="spacingAndGlyphs" stroke="#1e1e1e" stroke-width="0.2">K562 (24:02)</text></g>
<g transform="translate(225.12,597.52) rotate(-45)"><text x="-34.73" y="0.00" font-size="8.90" fill="#1e1e1e" textLength="34.73" lengthAdjust="spacingAndGlyphs" stroke="#1e1e1e" stroke-width="0.2">Monensin</text></g>
<text transform="translate(141.20,573.40) rotate(-90)" font-size="10.00" fill="#1e1e1e" textLength="97.15" lengthAdjust="spacingAndGlyphs" stroke="#1e1e1e" stroke-width="0.35">HLA expression (% of control)</text>
<line x1="325.40" y1="542.20" x2="325.40" y2="556.60" stroke="#151515" stroke-width="1.15"/>
<line x1="321.55" y1="542.20" x2="329.25" y2="542.20" stroke="#151515" stroke-width="1.15"/>
<line x1="277.00" y1="470.50" x2="277.00" y2="580.60" stroke="#151515" stroke-width="1.35"/>
<line x1="273.80" y1="580.00" x2="277.00" y2="580.00" stroke="#151515" stroke-width="1.2"/>
<text x="265.45" y="582.92" font-size="8.50" text-anchor="start" fill="#1e1e1e" textLength="5.11" lengthAdjust="spacingAndGlyphs" stroke="#1e1e1e" stroke-width="0.15">0</text>
<line x1="273.80" y1="558.62" x2="277.00" y2="558.62" stroke="#151515" stroke-width="1.2"/>
<text x="260.35" y="561.54" font-size="8.50" text-anchor="start" fill="#1e1e1e" textLength="10.21" lengthAdjust="spacingAndGlyphs" stroke="#1e1e1e" stroke-width="0.15">20</text>
<line x1="273.80" y1="537.24" x2="277.00" y2="537.24" stroke="#151515" stroke-width="1.2"/>
<text x="260.35" y="540.16" font-size="8.50" text-anchor="start" fill="#1e1e1e" textLength="10.21" lengthAdjust="spacingAndGlyphs" stroke="#1e1e1e" stroke-width="0.15">40</text>
<line x1="273.80" y1="515.86" x2="277.00" y2="515.86" stroke="#151515" stroke-width="1.2"/>
<text x="260.35" y="518.78" font-size="8.50" text-anchor="start" fill="#1e1e1e" textLength="10.21" lengthAdjust="spacingAndGlyphs" stroke="#1e1e1e" stroke-width="0.15">60</text>
<line x1="273.80" y1="494.48" x2="277.00" y2="494.48" stroke="#151515" stroke-width="1.2"/>
<text x="260.35" y="497.40" font-size="8.50" text-anchor="start" fill="#1e1e1e" textLength="10.21" lengthAdjust="spacingAndGlyphs" stroke="#1e1e1e" stroke-width="0.15">80</text>
<line x1="273.80" y1="473.10" x2="277.00" y2="473.10" stroke="#151515" stroke-width="1.2"/>
<text x="255.24" y="476.02" font-size="8.50" text-anchor="start" fill="#1e1e1e" textLength="15.32" lengthAdjust="spacingAndGlyphs" stroke="#1e1e1e" stroke-width="0.15">100</text>
<line x1="274.00" y1="580.00" x2="334.90" y2="580.00" stroke="#151515" stroke-width="1.35"/>
<line x1="291.20" y1="580.00" x2="291.20" y2="583.50" stroke="#151515" stroke-width="1.2"/>
<line x1="325.40" y1="580.00" x2="325.40" y2="583.50" stroke="#151515" stroke-width="1.2"/>
<g transform="translate(291.50,590.10) rotate(-45)"><text x="-51.46" y="0.00" font-size="8.90" fill="#1e1e1e" textLength="51.46" lengthAdjust="spacingAndGlyphs" stroke="#1e1e1e" stroke-width="0.2">K562 (24:02)</text></g>
<g transform="translate(298.92,597.52) rotate(-45)"><text x="-35.18" y="0.00" font-size="8.90" fill="#1e1e1e" textLength="35.18" lengthAdjust="spacingAndGlyphs" stroke="#1e1e1e" stroke-width="0.2">Untreated</text></g>
<g transform="translate(325.70,590.10) rotate(-45)"><text x="-51.46" y="0.00" font-size="8.90" fill="#1e1e1e" textLength="51.46" lengthAdjust="spacingAndGlyphs" stroke="#1e1e1e" stroke-width="0.2">K562 (24:02)</text></g>
<g transform="translate(333.12,597.52) rotate(-45)"><text x="-34.73" y="0.00" font-size="8.90" fill="#1e1e1e" textLength="34.73" lengthAdjust="spacingAndGlyphs" stroke="#1e1e1e" stroke-width="0.2">Monensin</text></g>
<text transform="translate(248.50,575.80) rotate(-90)" font-size="9.90" fill="#1e1e1e" textLength="101.18" lengthAdjust="spacingAndGlyphs" stroke="#1e1e1e" stroke-width="0.35">IFN<tspan font-size="6.6" dy="1.4">γ</tspan><tspan dy="-1.4"> production (% of control)</tspan></text>
<text x="354.60" y="452.83" font-size="12.86" text-anchor="start" fill="#000" font-weight="bold" textLength="8.93" lengthAdjust="spacingAndGlyphs" stroke="#000" stroke-width="0.55">G</text>
<line x1="401.30" y1="469.80" x2="401.30" y2="580.90" stroke="#151515" stroke-width="1.35"/>
<line x1="398.10" y1="580.30" x2="401.30" y2="580.30" stroke="#151515" stroke-width="1.2"/>
<text x="389.75" y="583.22" font-size="8.50" text-anchor="start" fill="#1e1e1e" textLength="5.11" lengthAdjust="spacingAndGlyphs" stroke="#1e1e1e" stroke-width="0.15">0</text>
<line x1="398.10" y1="553.50" x2="401.30" y2="553.50" stroke="#151515" stroke-width="1.2"/>
<text x="374.44" y="556.42" font-size="8.50" text-anchor="start" fill="#1e1e1e" textLength="20.42" lengthAdjust="spacingAndGlyphs" stroke="#1e1e1e" stroke-width="0.15">5000</text>
<line x1="398.10" y1="526.70" x2="401.30" y2="526.70" stroke="#151515" stroke-width="1.2"/>
<text x="369.33" y="529.62" font-size="8.50" text-anchor="start" fill="#1e1e1e" textLength="25.53" lengthAdjust="spacingAndGlyphs" stroke="#1e1e1e" stroke-width="0.15">10000</text>
<line x1="398.10" y1="499.90" x2="401.30" y2="499.90" stroke="#151515" stroke-width="1.2"/>
<text x="369.33" y="502.82" font-size="8.50" text-anchor="start" fill="#1e1e1e" textLength="25.53" lengthAdjust="spacingAndGlyphs" stroke="#1e1e1e" stroke-width="0.15">15000</text>
<line x1="398.10" y1="473.10" x2="401.30" y2="473.10" stroke="#151515" stroke-width="1.2"/>
<text x="369.33" y="476.02" font-size="8.50" text-anchor="start" fill="#1e1e1e" textLength="25.53" lengthAdjust="spacingAndGlyphs" stroke="#1e1e1e" stroke-width="0.15">20000</text>
<line x1="398.00" y1="580.30" x2="511.10" y2="580.30" stroke="#151515" stroke-width="1.35"/>
<line x1="420.40" y1="580.30" x2="420.40" y2="583.80" stroke="#151515" stroke-width="1.2"/>
<line x1="458.50" y1="580.30" x2="458.50" y2="583.80" stroke="#151515" stroke-width="1.2"/>
<line x1="496.50" y1="580.30" x2="496.50" y2="583.80" stroke="#151515" stroke-width="1.2"/>
<g transform="translate(421.00,590.10) rotate(-45)"><text x="-48.73" y="0.00" font-size="8.90" fill="#1e1e1e" textLength="48.73" lengthAdjust="spacingAndGlyphs" stroke="#1e1e1e" stroke-width="0.2">T2 (02:01) +</text></g>
<g transform="translate(428.35,597.45) rotate(-45)"><text x="-57.16" y="0.00" font-size="8.90" fill="#1e1e1e" textLength="18.79" lengthAdjust="spacingAndGlyphs" stroke="#1e1e1e" stroke-width="0.2">WT1</text><text x="-36.77" y="2.40" font-size="4.70" fill="#1e1e1e" textLength="17.25" lengthAdjust="spacingAndGlyphs" stroke="#1e1e1e" stroke-width="0.2">126-134</text><text x="-17.32" y="0.00" font-size="8.90" fill="#1e1e1e" textLength="17.32" lengthAdjust="spacingAndGlyphs" stroke="#1e1e1e" stroke-width="0.2">pep.</text></g>
<g transform="translate(459.10,590.10) rotate(-45)"><text x="-30.53" y="0.00" font-size="8.90" fill="#1e1e1e" textLength="30.53" lengthAdjust="spacingAndGlyphs" stroke="#1e1e1e" stroke-width="0.2">LCL-TM</text></g>
<g transform="translate(466.45,597.45) rotate(-45)"><text x="-52.94" y="0.00" font-size="8.90" fill="#1e1e1e" textLength="52.94" lengthAdjust="spacingAndGlyphs" stroke="#1e1e1e" stroke-width="0.2">(03:01/24:02)</text></g>
<g transform="translate(497.10,590.10) rotate(-45)"><text x="-23.06" y="0.00" font-size="8.90" fill="#1e1e1e" textLength="23.06" lengthAdjust="spacingAndGlyphs" stroke="#1e1e1e" stroke-width="0.2">OKT-3</text></g>
<text transform="translate(362.90,541.07) rotate(-90)" font-size="10.40" fill="#1e1e1e" textLength="32.93" lengthAdjust="spacingAndGlyphs" stroke="#1e1e1e" stroke-width="0.5">CD69 MFI</text>
<rect x="401.30" y="444.60" width="10.70" height="3.90" fill="#a3002c" stroke="#940026" stroke-width="0.8"/>
<rect x="401.35" y="457.35" width="10.60" height="3.40" fill="#304c7e" stroke="#1a346a" stroke-width="0.9"/>
<text x="415.67" y="449.40" font-size="8.90" text-anchor="start" fill="#1e1e1e" textLength="81.53" lengthAdjust="spacingAndGlyphs" stroke="#1e1e1e" stroke-width="0.15">FE11 TCR trans. Jurma</text>
<text x="416.17" y="461.60" font-size="8.90" text-anchor="start" fill="#1e1e1e" textLength="15.18" lengthAdjust="spacingAndGlyphs" stroke="#1e1e1e" stroke-width="0.15">WT1</text>
<text x="433.12" y="464.80" font-size="4.90" text-anchor="start" fill="#1e1e1e" textLength="18.53" lengthAdjust="spacingAndGlyphs" stroke="#1e1e1e" stroke-width="0.15">126-134</text>
<text x="453.73" y="461.60" font-size="8.90" text-anchor="start" fill="#1e1e1e" textLength="58.37" lengthAdjust="spacingAndGlyphs" stroke="#1e1e1e" stroke-width="0.15">TCR trans. Jurma</text>
</svg>
<div id="bd"></div>
</div></body></html>
